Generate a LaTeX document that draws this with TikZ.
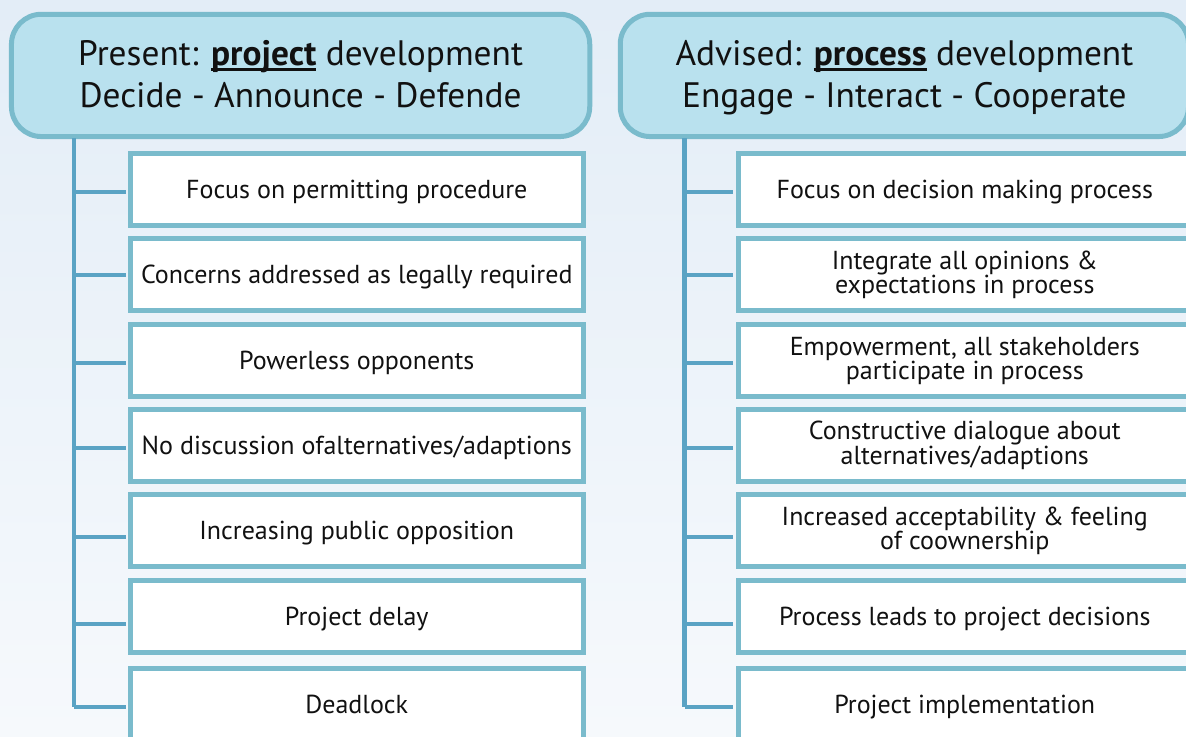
\documentclass[tikz,border=0pt]{standalone}
\usepackage{fontspec}
\setmainfont{PT Sans}
\definecolor{bgtop}{HTML}{E3EDF7}
\definecolor{bgbot}{HTML}{F6F9FC}
\definecolor{hdfill}{HTML}{B9E1EE}
\definecolor{bordc}{HTML}{7ABBCC}
\definecolor{spinec}{HTML}{5AA3C4}
\definecolor{txtc}{HTML}{111111}
\newcommand{\myul}[1]{\setbox0\hbox{#1}\rlap{\rule[-0.155em]{\wd0}{0.078em}}\box0}
\tikzset{
  header/.style={draw=bordc, fill=hdfill, line width=3.75pt, rounded corners=22.5pt,
    minimum height=122.3*0.75pt, inner sep=0pt},
  headtext/.style={inner sep=0pt, align=center, text=txtc,
    font=\fontsize{26.5}{32}\selectfont},
  itembox/.style={draw=bordc, fill=white, line width=3.75pt, minimum height=72*0.75pt,
    inner sep=0pt, align=center, text=txtc, font=\fontsize{19.5}{18}\selectfont},
  onel/.style={text height=13.6pt, text depth=0pt},
  leftbox/.style={itembox, minimum width=452.5*0.75pt},
  rightbox/.style={itembox, minimum width=453.5*0.75pt},
  spine/.style={draw=spinec, line width=3.4pt},
}
\begin{document}
\begin{tikzpicture}[x=0.75pt,y=-0.75pt]
\useasboundingbox (0,0) rectangle (1186,736);
\clip (0,0) rectangle (1186,736);
\shade[top color=bgtop, bottom color=bgbot] (0,0) rectangle (1186,736);

% headers
\node[header, minimum width=578.3*0.75pt] (hl) at (300.6,75.4) {};
\node[header, minimum width=568.3*0.75pt] (hr) at (904.4,75.4) {};
\node[headtext] (hlt) at ([yshift=-2pt]hl.center) {\strut Present: \textbf{\myul{project}} development\\\strut Decide - Announce - Defende};
\node[headtext] (hrt) at ([yshift=-2pt]hr.center) {\strut Advised: \textbf{\myul{process}} development\\\strut Engage - Interact - Cooperate};

% spine coordinates
\coordinate (lt) at (74,138);
\coordinate (rt) at (684.5,138);
\foreach \i/\y in {1/192,2/275,3/363,4/448,5/537,6/624,7/707}{
  \coordinate (l\i) at (74,\y);
  \coordinate (r\i) at (684.5,\y);
}
\draw[spine] (lt) -- (l7);
\draw[spine] (rt) -- (r7);

% left boxes
\node[leftbox, onel] (a1) at (356.75,189.5) {Focus on permitting procedure};
\node[leftbox, onel] (a2) at (356.75,274.5) {Concerns addressed as legally required};
\node[leftbox, onel] (a3) at (356.75,360.5) {Powerless opponents};
\node[leftbox, onel] (a4) at (356.75,445.5) {No discussion ofalternatives/adaptions};
\node[leftbox, onel] (a5) at (356.75,530.5) {Increasing public opposition};
\node[leftbox, onel] (a6) at (356.75,616.5) {Project delay};
\node[leftbox, onel] (a7) at (356.75,704.5) {Deadlock};

% right boxes
\node[rightbox, onel] (b1) at (964.75,189.5) {Focus on decision making process};
\node[rightbox] (b2) at (964.75,274.5) {Integrate all opinions \&\\expectations in process};
\node[rightbox] (b3) at (964.75,360.5) {Empowerment, all stakeholders\\participate in process};
\node[rightbox] (b4) at (964.75,445.5) {Constructive dialogue about\\alternatives/adaptions};
\node[rightbox] (b5) at (964.75,530.5) {Increased acceptability \& feeling\\of coownership};
\node[rightbox, onel] (b6) at (964.75,616.5) {Process leads to project decisions};
\node[rightbox, onel] (b7) at (964.75,704.5) {Project implementation};

% connectors
\foreach \i in {1,...,7}{
  \draw[spine, shorten >=1.875pt] (l\i) -- (l\i -| a\i.west);
  \draw[spine, shorten >=1.875pt] (r\i) -- (r\i -| b\i.west);
}
\end{tikzpicture}
\end{document}
